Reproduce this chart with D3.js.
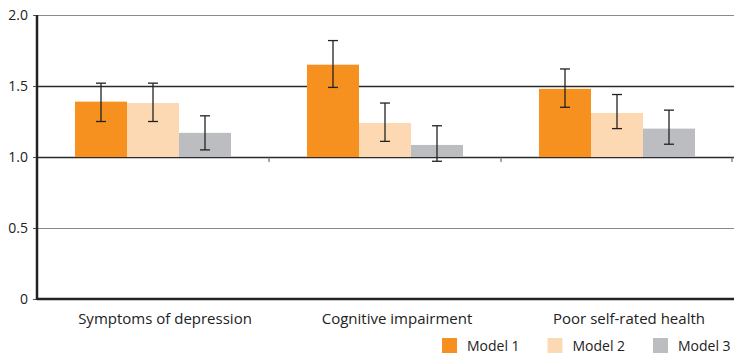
<!DOCTYPE html>
<html>
<head>
<meta charset="utf-8">
<script src="https://cdn.jsdelivr.net/npm/d3@7"></script>
<style>
  body { margin: 0; background: #fff; }
  svg { display: block; font-family: 'Open Sans', sans-serif; }
</style>
</head>
<body>
<svg id="chart"></svg>
<script>
const categories = ['Symptoms of depression', 'Cognitive impairment', 'Poor self-rated health'];
const models = ['Model 1', 'Model 2', 'Model 3'];
const model1 = [1.39, 1.65, 1.48];
const model2 = [1.38, 1.24, 1.31];
const model3 = [1.17, 1.085, 1.20];
const lower1 = [1.25, 1.49, 1.35];
const upper1 = [1.52, 1.82, 1.62];
const lower2 = [1.25, 1.11, 1.20];
const upper2 = [1.52, 1.38, 1.44];
const lower3 = [1.05, 0.97, 1.09];
const upper3 = [1.29, 1.22, 1.33];
const yTicks = [0, 0.5, 1.0, 1.5, 2.0];
const yTickLabels = ['0', '0.5', '1.0', '1.5', '2.0'];

const colors = ['#f6901e', '#fcd9b3', '#bcbdc0'];
const width = 734, height = 354;
const margin = { top: 15, right: 1, bottom: 55, left: 37 };
const baseline = 1.0;

const series = [
  { values: model1, lo: lower1, hi: upper1 },
  { values: model2, lo: lower2, hi: upper2 },
  { values: model3, lo: lower3, hi: upper3 },
];

const svg = d3.select('#chart').attr('width', width).attr('height', height);

const x = d3.scaleBand()
  .domain(categories)
  .range([margin.left, width - margin.right])
  .paddingInner(0)
  .paddingOuter(0);

const xInner = d3.scaleBand()
  .domain(models)
  .range([38, 38 + 156]);

const y = d3.scaleLinear()
  .domain([0, 2])
  .range([height - margin.bottom, margin.top]);

// gridlines
svg.append('g')
  .selectAll('line')
  .data(yTicks.filter(d => d > 0))
  .join('line')
  .attr('x1', margin.left)
  .attr('x2', width)
  .attr('y1', d => Math.round(y(d)) + 0.5)
  .attr('y2', d => Math.round(y(d)) + 0.5)
  .attr('stroke', d => (d === 1.0 || d === 1.5) ? '#2a2a2a' : '#8a8a8a')
  .attr('stroke-width', d => (d === 1.0 || d === 1.5) ? 1.6 : 1.2);

// category ticks on baseline
svg.append('g')
  .selectAll('line')
  .data(categories.slice(1).map(c => x(c)).concat([x(categories[2]) + x.bandwidth() - 1]))
  .join('line')
  .attr('x1', d => d)
  .attr('x2', d => d)
  .attr('y1', y(baseline))
  .attr('y2', y(baseline) + 5)
  .attr('stroke', '#555')
  .attr('stroke-width', 1);

// bars
const groups = svg.append('g')
  .selectAll('g')
  .data(categories)
  .join('g')
  .attr('transform', d => `translate(${x(d)},0)`);

groups.selectAll('rect')
  .data((d, i) => series.map((s, j) => ({ model: models[j], v: s.values[i], j })))
  .join('rect')
  .attr('x', d => xInner(d.model))
  .attr('width', xInner.bandwidth())
  .attr('y', d => y(d.v))
  .attr('height', d => y(baseline) - y(d.v))
  .attr('fill', d => colors[d.j]);

// error bars
const err = groups.selectAll('g.err')
  .data((d, i) => series.map((s, j) => ({ model: models[j], lo: s.lo[i], hi: s.hi[i] })))
  .join('g')
  .attr('class', 'err')
  .attr('stroke', '#222')
  .attr('stroke-width', 1.3);

err.append('line')
  .attr('x1', d => xInner(d.model) + xInner.bandwidth() / 2)
  .attr('x2', d => xInner(d.model) + xInner.bandwidth() / 2)
  .attr('y1', d => y(d.lo))
  .attr('y2', d => y(d.hi));

err.selectAll('line.cap')
  .data(d => [{ model: d.model, v: d.lo }, { model: d.model, v: d.hi }])
  .join('line')
  .attr('class', 'cap')
  .attr('x1', d => xInner(d.model) + xInner.bandwidth() / 2 - 5)
  .attr('x2', d => xInner(d.model) + xInner.bandwidth() / 2 + 5)
  .attr('y1', d => y(d.v))
  .attr('y2', d => y(d.v));

// x axis line
svg.append('line')
  .attr('x1', margin.left)
  .attr('x2', width)
  .attr('y1', y(0))
  .attr('y2', y(0))
  .attr('stroke', '#222')
  .attr('stroke-width', 2.5);

// y axis
const yAxis = svg.append('g')
  .attr('transform', `translate(${margin.left},0)`)
  .call(d3.axisLeft(y).tickValues(yTicks).tickFormat((d, i) => yTickLabels[i]).tickSize(4).tickPadding(5));
yAxis.select('.domain').remove();
yAxis.selectAll('.tick line').attr('stroke', '#555');
yAxis.selectAll('.tick text').attr('font-size', 14).attr('fill', '#222').attr('font-family', "'Open Sans', sans-serif");
svg.append('line')
  .attr('x1', margin.left)
  .attr('x2', margin.left)
  .attr('y1', y(2))
  .attr('y2', y(0) + 1)
  .attr('stroke', '#222')
  .attr('stroke-width', 2.5);

// category labels
svg.append('g')
  .selectAll('text')
  .data(categories)
  .join('text')
  .attr('x', d => x(d) + 38 + 78 + 12)
  .attr('y', 324)
  .attr('text-anchor', 'middle')
  .attr('font-size', 15)
  .attr('fill', '#222')
  .text(d => d);

// legend
const legend = svg.append('g')
  .selectAll('g')
  .data(models)
  .join('g')
  .attr('transform', (d, i) => `translate(${442 + i * 105.5},338)`);

legend.append('rect')
  .attr('width', 15)
  .attr('height', 15)
  .attr('fill', (d, i) => colors[i]);

legend.append('text')
  .attr('x', 25)
  .attr('y', 13)
  .attr('font-size', 14)
  .attr('fill', '#222')
  .text(d => d);
</script>
</body>
</html>
